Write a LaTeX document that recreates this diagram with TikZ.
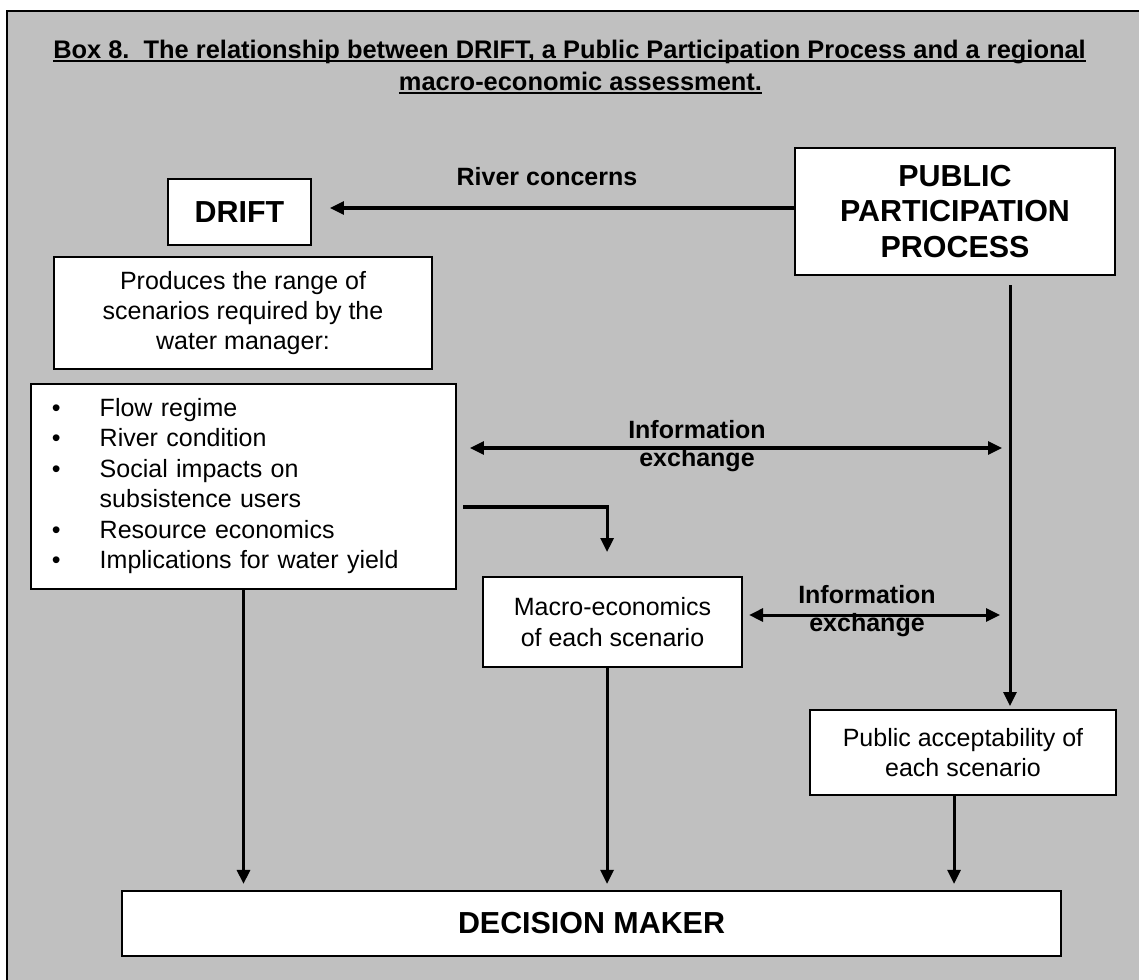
\documentclass[tikz,border=0pt]{standalone}
\usepackage{fontspec}
\setmainfont{Liberation Sans}
\usetikzlibrary{arrows.meta}
\definecolor{panelgray}{HTML}{C0C0C0}
\newcommand{\titleul}[1]{\setbox0\hbox{#1}\rlap{\copy0}\rule[-1.8pt]{\wd0}{0.9pt}}

\begin{document}
\begin{tikzpicture}[
  x=0.48pt, y=-0.48pt,
  box/.style={draw, line width=1pt, fill=white, inner sep=0pt, align=center, font=\fontsize{12}{14.6}\selectfont},
  headbox/.style={box, font=\bfseries\fontsize{14.6}{17}\selectfont},
  lbl/.style={align=center, font=\bfseries\fontsize{12}{13.8}\selectfont},
  arrow/.style={-{Triangle[length=6.7pt, width=6.2pt]}, line width=1.45pt},
  biarrow/.style={arrow, {Triangle[length=6.7pt, width=6.2pt]}-{Triangle[length=6.7pt, width=6.2pt]}}
]
\useasboundingbox (0,0) rectangle (1139,979);
\begin{scope}
  \clip (-10,-10) rectangle (1149,989);
  \draw[line width=1pt, fill=panelgray] (7,11) rectangle (1170,1010);
\end{scope}

\node[lbl, font=\bfseries\fontsize{12.2}{14}\selectfont, anchor=base] (title) at (569.5,58) {\titleul{Box 8.\ \ The relationship between DRIFT, a Public Participation Process and a regional}};
\node[lbl, font=\bfseries\fontsize{12.2}{14}\selectfont, anchor=base] (title2) at (580.5,90) {\titleul{macro-economic assessment.}};

\node[headbox, minimum width=68.6pt, minimum height=31.7pt] (drift) at (239.5,212) {DRIFT};
\node[headbox, minimum width=153.6pt, minimum height=61pt] (ppp) at (955,211.5) {PUBLIC\\PARTICIPATION\\PROCESS};
\node[box, minimum width=181.4pt, minimum height=53.8pt] (produces) at (243,313) {Produces the range of\\scenarios required by the\\water manager:};
\node[box, minimum width=204pt, minimum height=98.4pt, text width=184pt, inner xsep=10pt, align=left] (scen) at (243.5,486.5) {\noindent\begin{tabular}{@{}p{23pt}@{}l@{}}
  \textbullet & Flow regime\\
  \textbullet & River condition\\
  \textbullet & Social impacts on\\
              & subsistence users\\
  \textbullet & Resource economics\\
  \textbullet & Implications for water yield
\end{tabular}};
\node[box, minimum width=124.3pt, minimum height=43.2pt] (macro) at (612.5,622) {Macro-economics\\of each scenario};
\node[box, minimum width=146.9pt, minimum height=40.8pt] (accept) at (963,752.5) {Public acceptability of\\each scenario};
\node[headbox, minimum width=450.7pt, minimum height=31.2pt] (dm) at (591.5,923.5) {DECISION MAKER};

\node[lbl] (rivertxt) at (547,177) {River concerns};
\node[lbl] (info1) at (697,446) {Information\\exchange};
\node[lbl] (info2) at (867,611) {Information\\exchange};

\coordinate (spine) at (1010,285);

\draw[arrow, shorten >=8.6pt] (ppp.west |- 0,208) -- (drift.east |- 0,208);
\draw[arrow, shorten >=1.4pt] (spine) -- (spine |- accept.north);
\draw[biarrow, shorten <=6.2pt, shorten >=3.8pt] (scen.east |- 0,448) -- (spine |- 0,448);
\draw[biarrow, shorten <=2.9pt, shorten >=4.8pt] (macro.east |- 0,615) -- (spine |- 0,615);
\draw[arrow, shorten <=2.9pt, shorten >=11.5pt] (scen.east |- 0,507) -| ([xshift=-2.6pt]macro.north);
\draw[arrow, shorten >=2.9pt] (scen.south) -- (scen.south |- dm.north);
\draw[arrow, shorten >=2.9pt] ([xshift=-2.6pt]macro.south) -- ([xshift=-2.6pt]macro.south |- dm.north);
\draw[arrow, shorten >=2.9pt] ([xshift=-4.3pt]accept.south) -- ([xshift=-4.3pt]accept.south |- dm.north);
\end{tikzpicture}
\end{document}
